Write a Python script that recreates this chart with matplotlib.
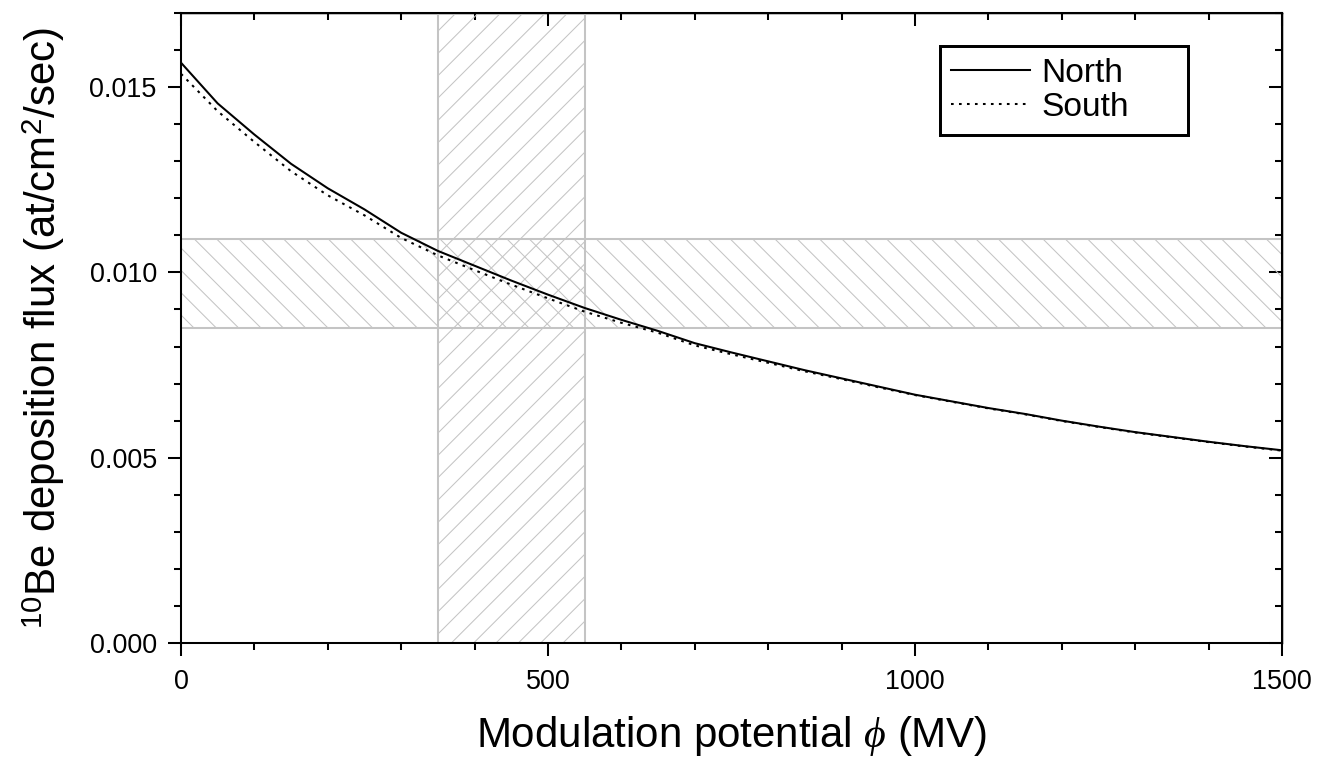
import matplotlib
matplotlib.use("Agg")
import matplotlib.pyplot as plt

plt.rcParams['font.family'] = ['Liberation Sans', 'DejaVu Sans']
plt.rcParams['mathtext.fontset'] = 'custom'
plt.rcParams['mathtext.rm'] = 'Liberation Sans'
plt.rcParams['mathtext.it'] = 'Liberation Serif:italic'
plt.rcParams['hatch.linewidth'] = 0.55

# modulation potential (MV)
phi = [0, 50, 100, 150, 200, 250, 300, 350, 400, 450, 500, 550, 600, 650, 700,
       750, 800, 850, 900, 950, 1000, 1050, 1100, 1150, 1200, 1250, 1300,
       1350, 1400, 1450, 1500]

# 10Be deposition flux (at/cm2/sec)
north = [0.01566, 0.01456, 0.01372, 0.01293, 0.01227, 0.01170, 0.01107, 0.01058,
         0.01018, 0.00978, 0.00940, 0.00904, 0.00872, 0.00842, 0.00809, 0.00784,
         0.00760, 0.00736, 0.00714, 0.00692, 0.00670, 0.00652, 0.00634, 0.00618,
         0.00600, 0.00584, 0.00569, 0.00556, 0.00543, 0.00531, 0.00520]
south = [0.01536, 0.01435, 0.01352, 0.01273, 0.01208, 0.01154, 0.01093, 0.01046,
         0.01006, 0.00967, 0.00930, 0.00894, 0.00864, 0.00837, 0.00803, 0.00779,
         0.00756, 0.00733, 0.00712, 0.00690, 0.00669, 0.00651, 0.00633, 0.00617,
         0.00599, 0.00583, 0.00568, 0.00555, 0.00542, 0.00530, 0.00519]

phi_band = (350, 550)
flux_band = (0.0085, 0.0109)

band_col = '#c4c4c4'

fig = plt.figure(figsize=(1317 / 134, 764 / 134), dpi=134)
ax = fig.add_axes([0.1374, 0.1584, 0.836, 0.8246])

ax.axvspan(*phi_band, facecolor='none', edgecolor=band_col, hatch='//', lw=1.1, zorder=1)
ax.axhspan(*flux_band, facecolor='none', edgecolor=band_col, hatch='\\\\', lw=1.1, zorder=1)

ax.plot(phi, north, color='black', lw=1.1, label='North', zorder=3)
ax.plot(phi, south, color='black', lw=1.1, ls=(0, (1.3, 2.6)), label='South', zorder=3)

ax.set_xlim(0, 1500)
ax.set_ylim(0, 0.017)
ax.set_xticks([0, 500, 1000, 1500])
ax.set_xticks(range(0, 1501, 100), minor=True)
ax.set_yticks([0.0, 0.005, 0.010, 0.015])
ax.set_yticklabels(['0.000', '0.005', '0.010', '0.015'])
ax.set_yticks([i * 0.001 for i in range(18)], minor=True)

for s in ax.spines.values():
    s.set_linewidth(1.1)
    s.set_zorder(5)

ax.tick_params(which='major', direction='out', length=7, width=1.1, labelsize=14.5)
ax.tick_params(which='minor', direction='out', length=3.8, width=1.1)
ax.tick_params(axis='x', pad=7)
ax.tick_params(axis='y', pad=6)

# inward ticks on top and right
top = ax.secondary_xaxis('top')
top.set_xticks([0, 500, 1000, 1500])
top.set_xticks(range(0, 1501, 100), minor=True)
top.tick_params(which='major', direction='in', length=7, width=1.1, labeltop=False)
top.tick_params(which='minor', direction='in', length=3.8, width=1.1)
right = ax.secondary_yaxis('right')
right.set_yticks([0.0, 0.005, 0.010, 0.015])
right.set_yticks([i * 0.001 for i in range(18)], minor=True)
right.tick_params(which='major', direction='in', length=7, width=1.1, labelright=False)
right.tick_params(which='minor', direction='in', length=3.8, width=1.1)

ax.set_xlabel(r'Modulation potential $\phi$ (MV)', fontsize=22.6, labelpad=10)
ax.set_ylabel(r'$^{10}$Be deposition flux (at/cm$^{2}$/sec)', fontsize=22.6, labelpad=12)

leg = ax.legend(loc='upper left', bbox_to_anchor=(0.689, 0.808, 0.2256, 0.1396),
                mode='expand', borderaxespad=0, fontsize=18,
                frameon=True, fancybox=False, edgecolor='black', framealpha=1,
                handlelength=2.35, handletextpad=0.33, borderpad=0.35, labelspacing=0.1)
leg.get_frame().set_linewidth(1.6)
leg.set_zorder(6)

fig.savefig('out.png', dpi=134)
